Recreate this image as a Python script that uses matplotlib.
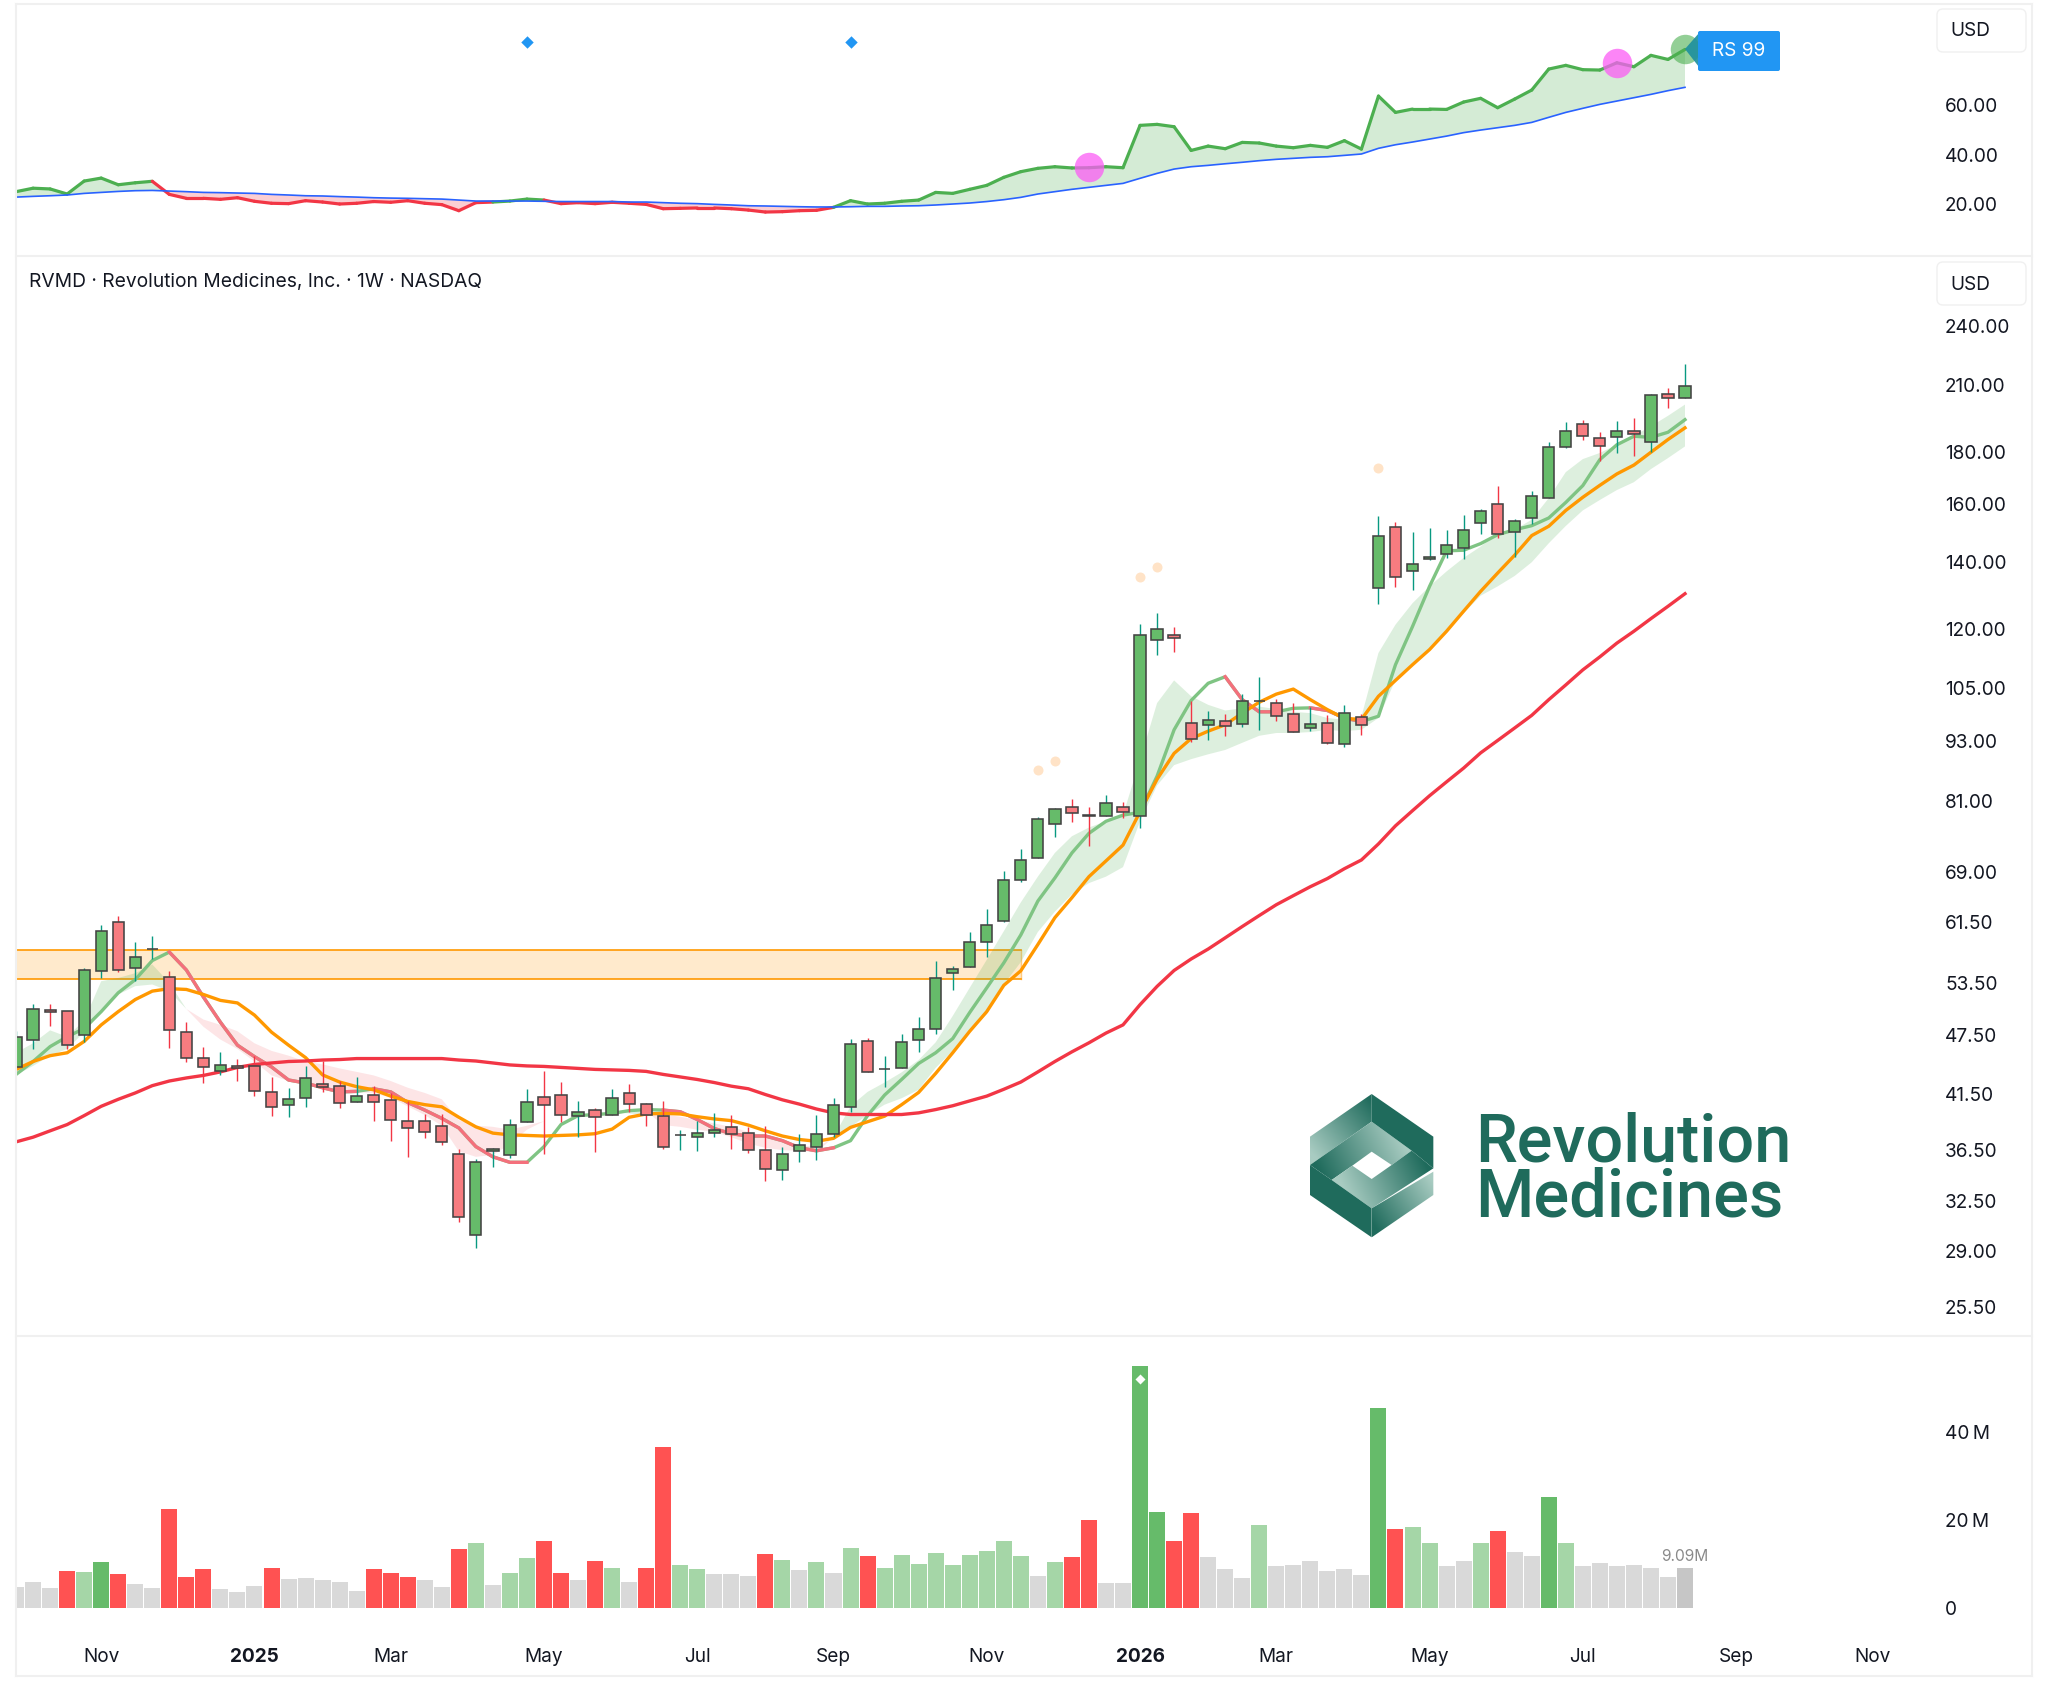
import numpy as np
import matplotlib; matplotlib.use("Agg"); import matplotlib.pyplot as plt
from matplotlib.patches import Polygon, FancyBboxPatch

plt.rcParams["font.family"] = ["Inter", "DejaVu Sans"]

# weekly candles
opens = [44.15, 47.0, 50.3, 50.2, 47.5, 55.0, 61.45, 55.3, 57.75, 54.2,
         47.8, 45.1, 43.75, 44.2, 44.2, 41.7, 40.5, 41.15, 42.45, 42.25,
         40.75, 41.4, 40.95, 39.05, 39.05, 38.6, 36.15, 30.05, 36.4, 36.1,
         38.95, 41.2, 41.4, 39.45, 40.0, 39.55, 41.6, 40.6, 39.45, 37.75,
         37.6, 38.0, 38.45, 38.0, 36.55, 34.85, 36.4, 36.75, 37.9, 40.3,
         46.85, 43.9, 44.05, 46.9, 48.2, 54.7, 55.45, 58.8, 61.65, 67.65,
         71.1, 77.0, 79.9, 78.6, 78.3, 79.9, 78.3, 117.0, 118.4, 96.9,
         96.4, 97.3, 96.7, 101.8, 101.4, 98.9, 95.8, 96.9, 92.4, 98.2,
         132.0, 151.7, 137.1, 141.0, 142.6, 144.7, 153.1, 159.8, 149.9, 154.8,
         162.0, 182.1, 191.9, 185.9, 186.3, 188.9, 184.2, 205.5, 203.6]
closes = [47.3, 50.4, 50.0, 46.4, 55.1, 60.3, 55.1, 56.7, 57.85, 48.0,
          45.1, 44.15, 44.3, 44.05, 41.8, 40.3, 41.05, 43.05, 42.15, 40.7,
          41.3, 40.75, 39.15, 38.4, 38.05, 37.2, 31.3, 35.55, 36.6, 38.7,
          40.75, 40.5, 39.55, 39.8, 39.35, 41.15, 40.6, 39.6, 36.75, 37.8,
          38.0, 38.2, 37.9, 36.55, 35.0, 36.2, 36.95, 37.9, 40.5, 46.55,
          43.6, 43.95, 46.75, 48.2, 54.1, 55.2, 58.8, 61.05, 67.65, 70.8,
          77.8, 79.6, 78.8, 78.3, 80.7, 79.0, 118.4, 120.1, 117.6, 93.4,
          97.5, 96.2, 101.9, 101.9, 98.4, 94.9, 96.7, 92.6, 99.1, 96.4,
          148.6, 135.3, 139.3, 141.6, 145.5, 150.6, 157.3, 149.2, 153.7, 162.8,
          182.1, 188.9, 186.7, 182.5, 188.9, 187.6, 205.1, 203.6, 209.3]
highs = [47.9, 50.95, 51.0, 50.2, 55.3, 61.05, 62.3, 58.8, 59.6, 55.0,
         48.9, 46.2, 45.7, 45.0, 45.3, 43.1, 42.1, 44.2, 44.7, 42.75,
         43.1, 42.3, 41.6, 40.85, 39.65, 39.65, 36.6, 35.75, 36.7, 39.2,
         41.95, 43.75, 42.65, 40.85, 40.2, 41.95, 42.5, 40.7, 40.8, 38.2,
         39.05, 39.7, 39.6, 38.5, 38.6, 36.8, 37.9, 39.6, 41.15, 47.1,
         47.2, 45.3, 47.65, 49.5, 56.2, 55.6, 60.1, 63.3, 69.1, 72.7,
         78.2, 79.8, 81.5, 80.0, 82.1, 80.9, 121.6, 124.5, 120.7, 102.0,
         99.6, 98.9, 103.6, 107.6, 102.3, 101.5, 100.6, 98.7, 101.0, 98.9,
         155.6, 153.5, 149.9, 151.4, 150.7, 155.7, 157.9, 166.7, 154.4, 164.6,
         184.3, 192.9, 193.8, 188.6, 193.4, 194.7, 205.7, 208.5, 220.3]
lows = [44.0, 46.0, 48.5, 46.0, 46.7, 54.1, 54.9, 53.75, 56.5, 46.15,
        44.65, 42.6, 43.3, 42.8, 41.3, 39.5, 39.4, 40.25, 41.65, 40.15,
        40.75, 39.0, 37.25, 35.95, 37.5, 36.9, 31.0, 29.2, 35.1, 35.85,
        38.95, 36.2, 38.9, 37.6, 36.35, 39.55, 39.8, 38.55, 36.6, 36.5,
        36.4, 37.6, 36.6, 36.3, 34.0, 34.1, 35.5, 35.65, 37.65, 39.8,
        43.6, 42.2, 44.05, 45.7, 47.6, 52.6, 55.45, 56.7, 61.45, 67.3,
        71.1, 74.6, 77.3, 73.1, 78.3, 77.9, 76.3, 113.3, 113.9, 92.8,
        93.1, 94.0, 96.1, 95.3, 97.4, 94.9, 95.1, 92.3, 91.7, 94.2,
        127.1, 132.1, 131.2, 140.6, 141.2, 141.1, 149.1, 148.0, 141.6, 152.8,
        162.0, 181.5, 184.9, 176.2, 179.4, 178.2, 180.0, 198.9, 203.6]

# moving averages
ma_fast = [43.4, 44.7, 46.25, 47.3, 48.2, 50.1, 52.3, 53.9, 56.3, 57.4,
           55.1, 51.8, 48.9, 46.4, 45.2, 44.15, 42.85, 42.55, 42.1, 41.7,
           41.75, 42.0, 41.7, 40.7, 40.0, 39.25, 38.4, 36.8, 35.95, 35.5,
           35.5, 36.8, 38.7, 39.5, 39.6, 39.7, 39.95, 40.05, 40.0, 39.85,
           39.15, 38.35, 37.9, 37.7, 37.7, 37.3, 36.7, 36.45, 36.7, 37.3,
           39.5, 41.4, 42.9, 44.5, 45.6, 47.1, 50.0, 52.9, 56.0, 59.7,
           64.5, 68.0, 72.0, 75.3, 77.4, 78.5, 79.0, 85.8, 95.4, 102.0,
           106.1, 107.7, 102.2, 99.4, 99.4, 100.2, 100.3, 99.7, 98.0, 97.2,
           98.4, 110.7, 120.8, 132.4, 143.6, 143.8, 146.0, 149.0, 150.7, 152.1,
           154.8, 160.4, 166.7, 176.9, 183.0, 186.6, 186.1, 188.3, 193.8]
ma_mid = [43.9, 44.7, 45.3, 45.6, 46.8, 48.6, 50.1, 51.5, 52.5, 52.8,
          52.7, 52.1, 51.4, 51.1, 49.7, 47.8, 46.4, 45.1, 43.35, 42.65,
          42.2, 41.9, 41.3, 40.8, 40.5, 40.3, 39.35, 38.5, 37.95, 37.8,
          37.75, 37.7, 37.75, 37.8, 37.9, 38.3, 39.35, 39.65, 39.7, 39.65,
          39.4, 39.2, 39.05, 38.65, 38.15, 37.7, 37.4, 37.25, 37.5, 38.45,
          38.95, 39.45, 40.5, 41.65, 43.5, 45.6, 47.9, 50.1, 53.2, 55.0,
          58.4, 62.1, 65.0, 68.2, 70.7, 73.3, 79.1, 85.2, 90.4, 93.5,
          95.1, 96.5, 99.1, 101.6, 103.5, 104.7, 102.2, 99.9, 97.9, 97.7,
          103.0, 106.8, 110.7, 114.6, 119.5, 125.1, 130.9, 136.5, 142.2, 148.7,
          151.9, 157.5, 162.3, 166.8, 171.2, 174.7, 179.9, 185.2, 190.2]
ma_slow = [37.2, 37.6, 38.15, 38.7, 39.5, 40.35, 41.0, 41.6, 42.3, 42.75,
           43.05, 43.3, 43.65, 44.1, 44.4, 44.55, 44.7, 44.75, 44.85, 44.9,
           45.0, 45.0, 45.0, 45.0, 45.0, 45.0, 44.85, 44.75, 44.55, 44.35,
           44.25, 44.2, 44.1, 44.0, 43.9, 43.85, 43.8, 43.7, 43.4, 43.15,
           42.9, 42.6, 42.25, 42.0, 41.45, 40.95, 40.55, 40.1, 39.75, 39.6,
           39.6, 39.6, 39.6, 39.75, 40.05, 40.4, 40.85, 41.3, 41.95, 42.65,
           43.65, 44.7, 45.7, 46.65, 47.7, 48.6, 50.9, 53.07, 55.04, 56.5,
           57.8, 59.3, 60.85, 62.4, 63.96, 65.3, 66.65, 67.9, 69.45, 70.85,
           73.5, 76.6, 79.3, 82.05, 84.7, 87.4, 90.5, 93.1, 95.8, 98.6,
           102.2, 105.7, 109.4, 112.7, 116.3, 119.5, 123.0, 126.5, 130.2]
# the two edges of the shaded ribbon
ribbon_a = [45.6, 46.6, 48.0, 47.3, 49.1, 53.7, 54.1, 54.7, 55.8, 53.5,
            50.4, 48.4, 47.0, 46.0, 44.7, 43.3, 42.75, 42.4, 42.1, 41.75,
            41.65, 41.6, 41.15, 40.35, 39.55, 38.6, 36.4, 35.95, 36.1, 37.0,
            38.25, 39.0, 39.25, 39.55, 39.55, 39.45, 39.9, 39.9, 38.65, 38.5,
            38.25, 38.05, 37.6, 37.05, 36.7, 36.5, 36.45, 36.3, 37.6, 40.35,
            41.7, 42.6, 43.6, 44.85, 46.7, 49.6, 52.9, 56.4, 60.2, 64.3,
            68.2, 72.0, 74.8, 76.3, 77.4, 78.5, 89.0, 101.4, 106.8, 103.0,
            101.0, 99.7, 100.2, 100.6, 100.0, 99.4, 99.1, 98.0, 97.6, 98.3,
            113.7, 121.3, 127.4, 132.4, 137.0, 141.3, 145.0, 149.7, 150.7, 154.2,
            162.0, 171.9, 177.1, 179.6, 183.0, 186.8, 190.9, 195.5, 200.6]
ribbon_b = [43.35, 44.25, 45.3, 46.0, 47.8, 50.1, 52.1, 53.1, 53.3, 52.5,
            50.4, 49.2, 48.6, 47.9, 46.6, 45.8, 45.3, 44.7, 44.4, 44.0,
            43.65, 43.3, 42.75, 42.1, 41.6, 41.0, 39.1, 38.6, 38.5, 38.25,
            38.6, 39.0, 39.25, 39.55, 39.7, 39.8, 39.7, 39.55, 39.6, 39.4,
            39.1, 38.8, 38.5, 38.05, 37.7, 37.3, 36.95, 36.75, 37.5, 38.5,
            39.55, 40.5, 41.1, 41.9, 44.05, 45.8, 47.9, 49.8, 53.3, 56.1,
            60.1, 62.96, 65.5, 67.2, 68.2, 69.7, 77.4, 84.0, 88.0, 89.2,
            90.2, 91.1, 92.6, 94.1, 94.7, 94.7, 94.9, 95.4, 95.1, 95.4,
            98.0, 106.9, 111.1, 115.1, 119.9, 124.5, 129.6, 132.4, 135.6, 139.9,
            146.1, 152.0, 157.5, 161.3, 165.0, 168.0, 173.1, 177.5, 182.3]
fast_falling = [(9, 20), (21, 30), (38, 48), (71, 74), (76, 79)]

zone_low, zone_high, zone_end = 53.95, 57.65, 59
pivot_i = [60, 61, 66, 67, 80]
pivot_p = [87.1, 88.9, 135.4, 138.5, 173.4]

# relative strength pane
rs_line = [25.0, 26.4, 26.1, 24.05, 29.3, 30.5, 27.8, 28.6, 29.2, 23.9,
           22.3, 22.3, 21.9, 22.55, 21.1, 20.3, 20.15, 21.35, 20.8, 20.0,
           20.3, 21.0, 20.7, 21.35, 20.3, 19.75, 17.3, 20.55, 20.8, 21.2,
           22.0, 21.6, 20.15, 20.55, 20.15, 20.7, 20.3, 19.85, 18.1, 18.25,
           18.4, 18.4, 18.1, 17.55, 16.75, 16.9, 17.3, 17.45, 18.65, 21.35,
           20.0, 20.3, 21.1, 21.6, 24.7, 24.3, 25.95, 27.55, 30.8, 33.1,
           34.45, 35.1, 34.6, 34.7, 35.1, 34.7, 51.85, 52.25, 51.3, 41.7,
           43.45, 42.4, 44.95, 44.7, 43.45, 42.8, 43.75, 42.95, 45.65, 42.25,
           63.7, 57.1, 58.45, 58.45, 58.3, 61.3, 62.8, 59.0, 62.5, 66.15,
           74.65, 76.15, 74.4, 74.25, 77.2, 75.6, 80.2, 78.55, 82.6]
rs_ma = [22.8, 23.1, 23.35, 23.65, 24.3, 24.7, 25.1, 25.4, 25.5, 25.25,
         25.0, 24.7, 24.6, 24.45, 24.3, 23.9, 23.65, 23.35, 23.25, 23.0,
         22.8, 22.55, 22.4, 22.3, 22.15, 22.0, 21.6, 21.2, 21.2, 21.2,
         21.2, 21.1, 21.0, 21.0, 21.0, 21.0, 20.8, 20.8, 20.55, 20.3,
         20.15, 19.85, 19.6, 19.3, 19.2, 19.05, 18.9, 18.8, 18.8, 18.9,
         19.05, 19.05, 19.2, 19.3, 19.6, 20.0, 20.4, 21.0, 21.75, 22.7,
         24.05, 25.0, 25.95, 26.75, 27.55, 28.35, 30.4, 32.4, 34.15, 35.1,
         35.65, 36.3, 36.9, 37.55, 38.1, 38.5, 38.9, 39.15, 39.7, 40.25,
         42.55, 44.0, 45.1, 46.3, 47.5, 48.9, 49.95, 50.9, 51.85, 53.05,
         55.1, 57.1, 58.75, 60.35, 61.7, 63.05, 64.4, 65.9, 67.25]
rs_diamond_i = [30, 49]
rs_diamond_v = [85.7, 85.7]
rs_pink_i = [63, 94]
rs_pink_v = [35.0, 77.0]

# volume in millions, one colour code per bar
volume = [4.8, 5.9, 4.5, 8.4, 8.2, 10.5, 7.7, 5.5, 4.5, 22.5,
          7.0, 8.9, 4.3, 3.6, 5.0, 9.1, 6.6, 6.8, 6.4, 5.9,
          3.9, 8.9, 8.0, 7.0, 6.4, 4.8, 13.4, 14.8, 5.2, 8.0,
          11.4, 15.2, 8.0, 6.4, 10.7, 9.1, 5.9, 9.1, 36.6, 9.8,
          8.9, 7.7, 7.7, 7.3, 12.3, 10.9, 8.6, 10.5, 8.0, 13.6,
          11.8, 9.1, 12.0, 10.0, 12.5, 9.8, 12.0, 13.0, 15.2, 11.8,
          7.3, 10.5, 11.6, 20.0, 5.7, 5.7, 55.0, 21.8, 15.2, 21.6,
          11.6, 8.9, 6.8, 18.9, 9.5, 9.8, 10.7, 8.4, 8.9, 7.5,
          45.5, 18.0, 18.4, 14.8, 9.5, 10.7, 14.8, 17.5, 12.7, 11.8,
          25.2, 14.8, 9.5, 10.2, 9.5, 9.8, 9.1, 7.0, 9.09]
vol_kind = ("nnnrlgrnnr" "rrnnnrnnnn" "nrrrnnrlnl" "lrrnrlnrrl" "lnnnrlnlnl"
            "rllllllll" "l" "nlrrnn" "ggrr" "nnnlnnnnnn" "grllnnlrnn" "glnnnnnnd")
vol_colors = {"n": "#d9d9d9", "r": "#ff5252", "l": "#a5d6a7", "g": "#66bb6a", "d": "#c6c6c6"}

price_ticks = [240, 210, 180, 160, 140, 120, 105, 93, 81, 69, 61.5, 53.5, 47.5, 41.5, 36.5, 32.5, 29, 25.5]
rs_ticks = [60, 40, 20]
vol_ticks = [0, 20, 40]
time_i = [5, 14, 22, 31, 40, 48, 57, 66, 74, 83, 92, 101, 109]
time_labels = ["Nov", "2025", "Mar", "May", "Jul", "Sep", "Nov", "2026", "Mar", "May", "Jul", "Sep", "Nov"]

GREEN, RED = "#66bb6a", "#f77c80"
W_UP, W_DN = "#089981", "#f23645"
TXT = "#131722"
FS = 13.7
W, H = 2048, 1686
X_L, X_R = 16.0, 2032.0
BAR_PX = 17.03

fig = plt.figure(figsize=(W / 100, H / 100), dpi=100, facecolor="white")

def pane(top, bottom):
    ax = fig.add_axes([X_L / W, 1 - bottom / H, (X_R - X_L) / W, (bottom - top) / H])
    ax.set_xlim((X_L - 16.06) / BAR_PX, (X_R - 16.06) / BAR_PX)
    for s in ax.spines.values():
        s.set_visible(False)
    ax.yaxis.tick_right()
    ax.tick_params(axis="y", length=0, pad=-62.6, labelsize=FS, labelcolor=TXT)
    ax.set_xticks([])
    return ax

x = np.arange(len(closes))
ax_rs = pane(3.5, 255.7)
ax_p = pane(255.7, 1336)
ax_v = pane(1336, 1676)

# RS pane
rs, rm = np.array(rs_line), np.array(rs_ma)
ax_rs.set_ylim(-0.93, 101.2)
ax_rs.fill_between(x, rs, rm, where=rs >= rm, interpolate=True, color="#4caf50", alpha=0.24, lw=0)
ax_rs.fill_between(x, rs, rm, where=rs < rm, interpolate=True, color="#f23645", alpha=0.24, lw=0)
for i in range(len(x) - 1):
    c = "#4caf50" if rs[i + 1] >= rm[i + 1] else "#f23645"
    ax_rs.plot(x[i:i + 2], rs[i:i + 2], color=c, lw=2.3, solid_capstyle="round", zorder=3)
ax_rs.plot(x, rm, color="#2962ff", lw=1.2, zorder=4)
ax_rs.scatter(rs_diamond_i, rs_diamond_v, marker="D", s=40, color="#2196f3", lw=0, zorder=5)
ax_rs.scatter(rs_pink_i, rs_pink_v, s=450, color="#fb5cf5", alpha=0.75, lw=0, zorder=5)
ax_rs.scatter([x[-1]], [rs[-1]], s=450, color="#4caf50", alpha=0.6, lw=0, zorder=5)
ax_rs.set_yticks(rs_ticks, [f"{v:.2f}" for v in rs_ticks])

# price pane
ax_p.set_yscale("log")
ax_p.set_ylim(23.87, 281.9)
zx = [ax_p.get_xlim()[0], zone_end]
ax_p.fill_between(zx, zone_low, zone_high, color="#ff9800", alpha=0.2, lw=0, zorder=1)
ax_p.plot(zx, [zone_high, zone_high], color="#ff9800", lw=1.2, zorder=1.5)
ax_p.plot(zx, [zone_low, zone_low], color="#ff9800", lw=1.2, zorder=1.5)
ax_p.plot([zone_end, zone_end], [zone_low, zone_high], color="#ff9800", lw=1.0, alpha=0.5, zorder=1.5)
ra, rb = np.array(ribbon_a), np.array(ribbon_b)
ax_p.fill_between(x, ra, rb, where=ra >= rb, interpolate=True, color="#4caf50", alpha=0.19, lw=0, zorder=2)
ax_p.fill_between(x, ra, rb, where=ra < rb, interpolate=True, color="#f23645", alpha=0.13, lw=0, zorder=2)

fast = np.array(ma_fast)
ax_p.plot(x, fast, color="#7fc483", lw=2.4, zorder=3)
for a, b in fast_falling:
    ax_p.plot(x[a:b + 1], fast[a:b + 1], color="#f4707c", lw=2.4, zorder=3.05)
ax_p.plot(x, ma_mid, color="#ff9800", lw=2.4, zorder=3.1)
ax_p.plot(x, ma_slow, color="#f23645", lw=2.4, zorder=3.2)
ax_p.scatter(pivot_i, pivot_p, s=52, color="#ffcc99", alpha=0.55, lw=0, zorder=3)

o, c, hi, lo = map(np.array, (opens, closes, highs, lows))
up = c >= o
ax_p.vlines(x, lo, hi, colors=[W_UP if u else W_DN for u in up], lw=1.0, zorder=4)
ax_p.bar(x, np.abs(c - o), bottom=np.minimum(o, c), width=0.66,
         color=[GREEN if u else RED for u in up], edgecolor="#434343", linewidth=1.15, zorder=5)
ax_p.set_yticks(price_ticks, [f"{v:.2f}" for v in price_ticks])
ax_p.minorticks_off()

# volume pane
ax_v.set_ylim(-15.44, 61.75)
ax_v.bar(x, volume, width=0.94, color=[vol_colors[k] for k in vol_kind], lw=0)
ax_v.scatter([66], [52], marker="D", s=26, color="white", lw=0, zorder=3)
ax_v.text(x[-1], volume[-1] + 1.0, f"{volume[-1]:.2f}M", ha="center", va="bottom", fontsize=11.2, color="#8a8a8a")
ax_v.set_yticks(vol_ticks, ["0", "20\u2009M", "40\u2009M"])
ax_v.set_xticks(time_i, time_labels)
ax_v.tick_params(axis="x", length=0, pad=-20, labelsize=FS, labelcolor=TXT)
for t in ax_v.get_xticklabels():
    if t.get_text().isdigit():
        t.set_fontweight("bold")

# panel chrome and logo, in figure pixels
chrome = fig.add_axes([0, 0, 1, 1], zorder=10)
chrome.patch.set_visible(False)
chrome.axis("off")
for xs, ys in [((X_L, X_R), (3.5, 3.5)), ((X_L, X_R), (255.7, 255.7)), ((X_L, X_R), (1336, 1336)),
               ((X_L, X_R), (1676, 1676)), ((X_L, X_L), (3.5, 1676)), ((X_R, X_R), (3.5, 1676))]:
    chrome.plot(xs, ys, color="#f0f0f0", lw=1.5)

for top in (9, 262):
    chrome.add_patch(FancyBboxPatch((1937, top), 89, 43, boxstyle="round,pad=0,rounding_size=6",
                                    fc="white", ec="#f0f0f0", lw=1.0))
    chrome.text(1950, top + 22.5, "USD", fontsize=FS, color=TXT, va="center")
chrome.text(29, 282.5, "RVMD · Revolution Medicines, Inc. · 1W · NASDAQ", fontsize=13.85, color=TXT, va="center")

chrome.add_patch(Polygon([(1685, 49), (1699, 33), (1699, 67)], fc="#1c8f9e", ec="none", alpha=0.9))
chrome.add_patch(FancyBboxPatch((1698, 31), 82, 40, boxstyle="round,pad=0,rounding_size=2", fc="#2196f3", ec="none"))
chrome.text(1739, 51, "RS 99", color="white", fontsize=FS, ha="center", va="center")

LOGO_DARK, LOGO_LIGHT = "#1f6b5c", "#a9ccc2"

def lg(pts):
    return [(1290 + px / 3, 1080 + py / 3) for px, py in pts]

def grad_poly(pts, c0, c1, p0, p1):
    pts, (ax0, ay0), (ax1, ay1) = lg(pts), *lg([p0, p1])
    xs, ys = zip(*pts)
    x0, x1, y0, y1 = min(xs), max(xs), min(ys), max(ys)
    gx, gy = np.meshgrid(np.linspace(x0, x1, 120), np.linspace(y0, y1, 120))
    dx, dy = ax1 - ax0, ay1 - ay0
    t = np.clip(((gx - ax0) * dx + (gy - ay0) * dy) / (dx * dx + dy * dy), 0, 1)[..., None]
    rgb = (1 - t) * np.array(matplotlib.colors.to_rgb(c0)) + t * np.array(matplotlib.colors.to_rgb(c1))
    im = chrome.imshow(rgb, extent=(x0, x1, y1, y0), origin="upper", aspect="auto", zorder=2)
    im.set_clip_path(Polygon(pts, transform=chrome.transData))

grad_poly([(245, 42), (60, 170), (60, 255), (245, 125)], LOGO_DARK, LOGO_LIGHT, (245, 60), (60, 215))
grad_poly([(60, 255), (245, 125), (365, 212), (305, 255), (245, 215), (187, 257), (125, 300)],
          LOGO_DARK, LOGO_LIGHT, (90, 280), (330, 165))
grad_poly([(365, 212), (430, 265), (245, 385), (125, 300), (187, 257), (245, 297), (305, 255)],
          LOGO_DARK, LOGO_LIGHT, (400, 240), (170, 350))
grad_poly([(430, 275), (430, 345), (245, 472), (245, 385)], LOGO_LIGHT, LOGO_DARK, (430, 310), (245, 430))
chrome.add_patch(Polygon(lg([(245, 42), (430, 170), (430, 265), (365, 212), (245, 125)]), fc=LOGO_DARK, ec="none", zorder=3))
chrome.add_patch(Polygon(lg([(60, 255), (125, 300), (245, 385), (245, 472), (60, 345)]), fc=LOGO_DARK, ec="none", zorder=3))
chrome.set_xlim(0, W)
chrome.set_ylim(H, 0)
chrome.text(1475, 1216.7, "Revolution\nMedicines", fontsize=48, linespacing=0.82, color=LOGO_DARK,
            family="Roboto", weight="medium", va="baseline", zorder=4)

fig.savefig("out.png", dpi=100, facecolor="white")
